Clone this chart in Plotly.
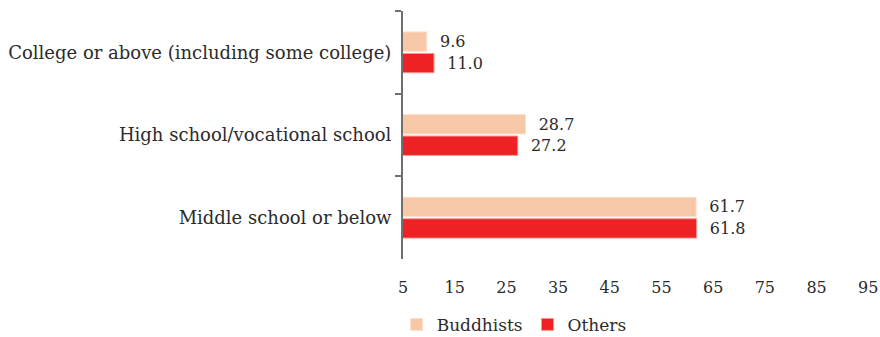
import plotly.graph_objects as go

# Education level by religious affiliation (%)
categories = [
    "College or above (including some college)",
    "High school/vocational school",
    "Middle school or below",
]
buddhists = [9.6, 28.7, 61.7]
others = [11.0, 27.2, 61.8]
x_ticks = [5, 15, 25, 35, 45, 55, 65, 75, 85, 95]

FONT = "DejaVu Serif"
TEXT_COLOR = "#2b2b2b"

fig = go.Figure()
fig.add_trace(go.Bar(
    name="Buddhists", y=categories, x=buddhists, orientation="h",
    marker=dict(color="#F7C8A8", line=dict(color="#FBE0CC", width=1)),
    texttemplate="\u00a0\u00a0%{x:.1f}", textposition="outside",
    textfont=dict(family=FONT, size=16, color=TEXT_COLOR),
    cliponaxis=False,
))
fig.add_trace(go.Bar(
    name="Others", y=categories, x=others, orientation="h",
    marker=dict(color="#EE2125", line=dict(color="#F69A8E", width=1)),
    texttemplate="\u00a0\u00a0%{x:.1f}", textposition="outside",
    textfont=dict(family=FONT, size=16, color=TEXT_COLOR),
    cliponaxis=False,
))

fig.update_layout(
    width=880, height=337,
    margin=dict(l=403, r=4, t=11, b=78, autoexpand=False),
    paper_bgcolor="white", plot_bgcolor="white",
    barmode="group", bargap=0.48, bargroupgap=0.1,
    font=dict(family=FONT, size=16, color=TEXT_COLOR),
    showlegend=True,
    legend=dict(
        orientation="h", x=0.235, xanchor="center",
        yref="container", y=0.036, yanchor="middle",
        font=dict(family=FONT, size=17, color=TEXT_COLOR),
        traceorder="normal",
    ),
    xaxis=dict(
        range=[5, 96.5], tickvals=x_ticks, ticktext=[str(v) for v in x_ticks],
        showgrid=False, zeroline=False, showline=False,
        ticks="outside", ticklen=14, tickcolor="rgba(0,0,0,0)",
        tickfont=dict(family=FONT, size=16, color=TEXT_COLOR),
    ),
    yaxis=dict(
        type="category", range=[2.5, -0.5], showgrid=False, zeroline=False,
        showline=True, linecolor="#707070", linewidth=2,
        ticks="outside", tickson="boundaries", ticklen=6,
        tickcolor="#707070", tickwidth=2,
        ticklabelstandoff=6,
        tickfont=dict(family=FONT, size=18, color=TEXT_COLOR),
    ),
)

fig.write_html("out.html")
